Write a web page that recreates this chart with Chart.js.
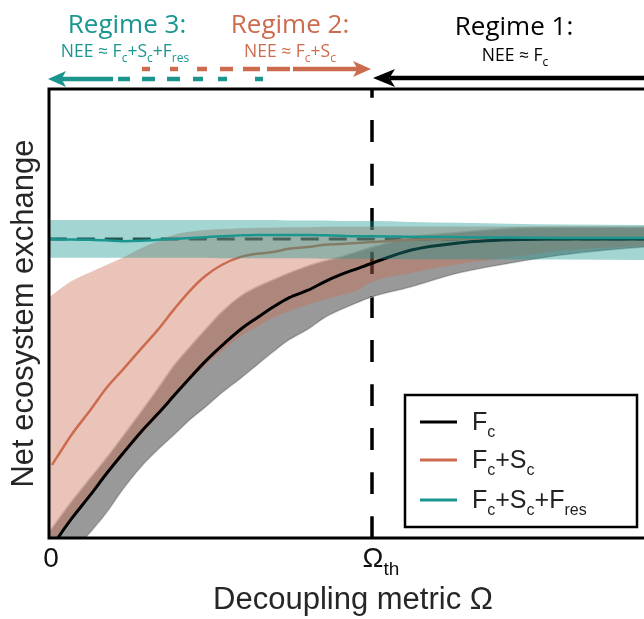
<!DOCTYPE html>
<html>
<head>
<meta charset="utf-8">
<script src="https://cdn.jsdelivr.net/npm/chart.js@4.4.1/dist/chart.umd.min.js"></script>
<style>
  html, body { margin: 0; padding: 0; background: #fff; overflow: hidden; }
  #wrap { position: absolute; left: 0; top: 0; }
</style>
</head>
<body>
<div id="wrap"><canvas id="neeChart" width="720" height="619"></canvas></div>
<script>
// Decoupling metric, scaled so that the threshold sits at 1
const omega = [-0.01, 0.0, 0.02, 0.06, 0.12, 0.17, 0.22, 0.28, 0.33, 0.38, 0.43, 0.48, 0.53, 0.59,
  0.64, 0.69, 0.74, 0.8, 0.85, 0.9, 0.95, 1.0, 1.12, 1.27, 1.43, 1.59, 1.85, 2.1];
const omegaTh = 1;

// NEE (normalised) - F_c
const fcMid = [-0.035, -0.02, 0.002, 0.042, 0.096, 0.143, 0.187, 0.238, 0.276, 0.316, 0.356, 0.394, 0.428,
  0.465, 0.49, 0.514, 0.535, 0.552, 0.57, 0.586, 0.599, 0.612, 0.641, 0.657, 0.664, 0.666, 0.666, 0.666];
const fcHigh = [0.013, 0.022, 0.042, 0.08, 0.134, 0.178, 0.225, 0.283, 0.332, 0.383, 0.425, 0.465, 0.503,
  0.539, 0.559, 0.575, 0.59, 0.606, 0.617, 0.626, 0.637, 0.648, 0.67, 0.681, 0.69, 0.692, 0.692, 0.692];
const fcLow = [-0.094, -0.085, -0.062, -0.031, 0.013, 0.056, 0.107, 0.16, 0.196, 0.229, 0.263, 0.292, 0.323,
  0.356, 0.385, 0.414, 0.441, 0.465, 0.49, 0.508, 0.523, 0.537, 0.559, 0.59, 0.612, 0.63, 0.648, 0.655];

// F_c + S_c
const scMid = [null, 0.163, 0.185, 0.229, 0.285, 0.334, 0.374, 0.423, 0.463, 0.508, 0.55, 0.584, 0.608,
  0.626, 0.633, 0.637, 0.644, 0.648, 0.653, 0.655, 0.657, 0.659, 0.664, 0.666, 0.667, 0.668, 0.668, 0.668];
const scHigh = [0.535, 0.541, 0.552, 0.572, 0.592, 0.608, 0.624, 0.646, 0.661, 0.675, 0.682, 0.686, 0.688,
  0.69, 0.691, 0.691, 0.692, 0.692, 0.693, 0.693, 0.693, 0.694, 0.694, 0.694, 0.694, 0.694, 0.694, 0.694];
const scLow = [-0.02, -0.01, 0.01, 0.045, 0.095, 0.14, 0.18, 0.23, 0.27, 0.31, 0.35, 0.385, 0.415,
  0.45, 0.47, 0.49, 0.505, 0.52, 0.53, 0.54, 0.55, 0.57, 0.59, 0.61, 0.625, 0.64, 0.65, 0.655];

// F_c + S_c + F_res
const resMid = [0.666, 0.666, 0.665, 0.665, 0.664, 0.663, 0.661, 0.662, 0.664, 0.666, 0.668, 0.67, 0.672,
  0.674, 0.675, 0.675, 0.675, 0.675, 0.674, 0.673, 0.672, 0.672, 0.671, 0.67, 0.669, 0.668, 0.668, 0.668];
const resHigh = [0.708, 0.708, 0.708, 0.708, 0.708, 0.708, 0.708, 0.708, 0.708, 0.708, 0.708, 0.708, 0.708,
  0.708, 0.708, 0.708, 0.707, 0.707, 0.707, 0.706, 0.706, 0.706, 0.704, 0.702, 0.7, 0.698, 0.697, 0.697];
const resLow = [0.624, 0.624, 0.624, 0.624, 0.624, 0.624, 0.624, 0.624, 0.624, 0.624, 0.624, 0.624, 0.623,
  0.623, 0.623, 0.623, 0.623, 0.623, 0.622, 0.622, 0.622, 0.622, 0.621, 0.621, 0.62, 0.62, 0.619, 0.619];

const neeRef = 0.666;

const teal = '#1a968f';
const red = '#cd6b4f';
const labelFont = '"Liberation Sans", Arial, sans-serif';
const titleFont = '"Open Sans", "Noto Sans", sans-serif';

const pts = (ys) => omega.map((x, i) => ({ x: x, y: ys[i] }));

const line = (data, color, width, extra) => Object.assign({
  data: data,
  borderColor: color,
  borderWidth: width,
  pointRadius: 0,
  fill: false,
  cubicInterpolationMode: 'monotone',
  clip: 0,
}, extra || {});

// rich text with subscripts: parts = [[text, isSub], ...]
const drawRich = (ctx, parts, x, y, size, subSize, family, color, align) => {
  const fontOf = (sub) => (sub ? subSize : size) + 'px ' + family;
  let total = 0;
  parts.forEach(([t, sub]) => { ctx.font = fontOf(sub); total += ctx.measureText(t).width; });
  let cx = align === 'left' ? x : x - total / 2;
  ctx.fillStyle = color;
  ctx.textAlign = 'left';
  ctx.textBaseline = 'alphabetic';
  parts.forEach(([t, sub]) => {
    ctx.font = fontOf(sub);
    ctx.fillText(t, cx, sub ? y + size * 0.28 : y);
    cx += ctx.measureText(t).width;
  });
};

const arrowHead = (ctx, tipX, y, dir, len, half, color) => {
  ctx.fillStyle = color;
  ctx.beginPath();
  ctx.moveTo(tipX, y);
  ctx.lineTo(tipX - dir * len, y - half);
  ctx.lineTo(tipX - dir * len * 0.75, y);
  ctx.lineTo(tipX - dir * len, y + half);
  ctx.closePath();
  ctx.fill();
};

const segs = (ctx, list, y, color, w) => {
  ctx.strokeStyle = color;
  ctx.lineWidth = w;
  ctx.setLineDash([]);
  list.forEach(([a, b]) => {
    ctx.beginPath();
    ctx.moveTo(a, y);
    ctx.lineTo(b, y);
    ctx.stroke();
  });
};

const decorations = {
  id: 'decorations',
  afterDatasetsDraw(chart) {
    const { ctx, chartArea: a } = chart;
    ctx.save();
    ctx.strokeStyle = '#000';
    ctx.lineWidth = 3;
    ctx.setLineDash([]);
    ctx.beginPath();
    ctx.moveTo(a.right + 5, a.top);
    ctx.lineTo(a.left, a.top);
    ctx.lineTo(a.left, a.bottom);
    ctx.lineTo(a.right + 5, a.bottom);
    ctx.stroke();
    ctx.restore();
  },
  afterDraw(chart) {
    const { ctx, chartArea: a } = chart;
    const xs = chart.scales.x;
    ctx.save();

    // tick labels
    const x0 = xs.getPixelForValue(0);
    const xTh = xs.getPixelForValue(omegaTh);
    ctx.fillStyle = '#111';
    ctx.font = '28px ' + labelFont;
    ctx.textAlign = 'center';
    ctx.fillText('0', x0 - 1, a.bottom + 29);
    drawRich(ctx, [['\u03A9', false], ['th', true]], xTh + 9, a.bottom + 29, 28, 19, labelFont, '#111');

    // axis titles
    ctx.fillStyle = '#262626';
    ctx.font = '31px ' + labelFont;
    ctx.textAlign = 'center';
    ctx.fillText('Decoupling metric \u03A9', 353, 609);
    ctx.save();
    ctx.translate(33, (a.top + a.bottom) / 2);
    ctx.rotate(-Math.PI / 2);
    ctx.fillText('Net ecosystem exchange', 0, 0);
    ctx.restore();

    // legend
    ctx.fillStyle = '#fff';
    ctx.fillRect(405, 395, 232, 132);
    ctx.strokeStyle = '#000';
    ctx.lineWidth = 2.5;
    ctx.strokeRect(405, 395, 232, 132);
    const rows = [
      ['#000', 422, [['F', false], ['c', true]]],
      [red, 460, [['F', false], ['c', true], ['+S', false], ['c', true]]],
      [teal, 500, [['F', false], ['c', true], ['+S', false], ['c', true], ['+F', false], ['res', true]]],
    ];
    rows.forEach(([c, y, parts]) => {
      segs(ctx, [[420, 457]], y, c, 3);
      drawRich(ctx, parts, 472, y + 8, 25, 16, labelFont, '#222', 'left');
    });

    // regime headings
    ctx.font = '26px ' + titleFont;
    ctx.textAlign = 'center';
    ctx.fillStyle = teal;
    ctx.fillText('Regime 3:', 127, 33);
    ctx.fillStyle = red;
    ctx.fillText('Regime 2:', 290, 33);
    ctx.fillStyle = '#000';
    ctx.fillText('Regime 1:', 514, 35);

    drawRich(ctx, [['NEE \u2248 F', false], ['c', true], ['+S', false], ['c', true], ['+F', false], ['res', true]],
      125, 57, 17.5, 12, titleFont, teal);
    drawRich(ctx, [['NEE \u2248 F', false], ['c', true], ['+S', false], ['c', true]], 290, 57, 17.5, 12, titleFont, red);
    drawRich(ctx, [['NEE \u2248 F', false], ['c', true]], 515, 61, 17.5, 12, titleFont, '#000');

    // regime arrows
    segs(ctx, [[56, 113], [118, 130], [142, 155], [167, 180], [193, 203], [218, 227], [255, 263]], 79, teal, 4.5);
    arrowHead(ctx, 48, 79, -1, 18, 8, teal);
    segs(ctx, [[142, 150], [170, 178], [197, 207], [220, 233], [243, 260], [267, 290], [293, 358]], 69, red, 4.5);
    arrowHead(ctx, 371, 69, 1, 18, 8, red);
    segs(ctx, [[390, 660]], 78, '#000', 4.5);
    arrowHead(ctx, 373, 78, -1, 22, 9, '#000');

    ctx.restore();
  },
};

const neeChart = new Chart(document.getElementById('neeChart'), {
  type: 'line',
  data: {
    datasets: [
      line(pts(resHigh), 'rgba(0,0,0,0)', 0, { fill: '+1', backgroundColor: 'rgba(26,150,143,0.4)' }),
      line(pts(resLow), 'rgba(0,0,0,0)', 0),
      line(pts(resMid), teal, 2.5),
      line(pts(fcMid), '#000', 3),
      line(pts(scHigh), 'rgba(0,0,0,0)', 0, { fill: '+1', backgroundColor: 'rgba(205,107,79,0.4)' }),
      line(pts(scLow), 'rgba(0,0,0,0)', 0),
      line(pts(scMid), red, 2.5),
      line(pts(fcHigh), 'rgba(200,200,200,0.9)', 1.5, { fill: '+1', backgroundColor: 'rgba(0,0,0,0.4)' }),
      line(pts(fcLow), 'rgba(200,200,200,0.9)', 1.5),
      line([{ x: omega[0], y: neeRef }, { x: omega[omega.length - 1], y: neeRef }], '#2a2a2a', 3,
        { borderDash: [18, 10] }),
      line([{ x: omegaTh, y: 0 }, { x: omegaTh, y: 1 }], '#000', 3.5, { borderDash: [22, 22] }),
    ],
  },
  options: {
    responsive: false,
    animation: false,
    events: [],
    layout: { padding: { left: 49, top: 89, right: 0, bottom: 81 } },
    plugins: {
      legend: { display: false },
      tooltip: { enabled: false },
    },
    scales: {
      x: { type: 'linear', display: false, min: -3 / 320, max: 2.0875 },
      y: { type: 'linear', display: false, min: 0, max: 1 },
    },
  },
  plugins: [decorations],
});
</script>
</body>
</html>
